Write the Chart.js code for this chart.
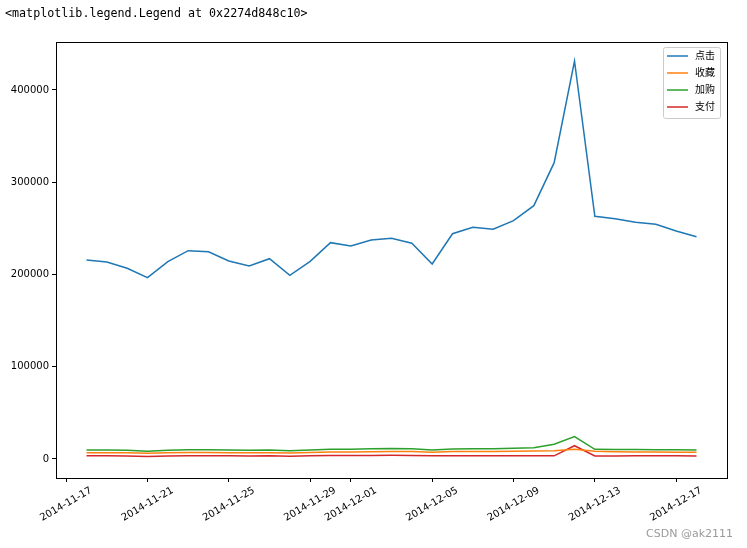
<!DOCTYPE html>
<html>
<head>
<meta charset="utf-8">
<script src="https://cdn.jsdelivr.net/npm/chart.js@4/dist/chart.umd.min.js"></script>
<style>
  html, body { margin: 0; padding: 0; background: #fff; }
  #wrap { position: relative; width: 747px; height: 548px; }
  #c { position: absolute; left: 0; top: 0; }
  #out { position: absolute; left: 5px; top: 6px; font: 11.7px "DejaVu Sans Mono", "Liberation Mono", monospace; color: #000; white-space: pre; }
  #wm { position: absolute; right: 14px; top: 527px; font: 11px "DejaVu Sans", "Noto Sans CJK SC", sans-serif; color: #9a9a9a; }
</style>
</head>
<body>
<div id="wrap">
  <canvas id="c" width="747" height="548"></canvas>
  <div id="out">&lt;matplotlib.legend.Legend at 0x2274d848c10&gt;</div>
  <div id="wm">CSDN @ak2111</div>
</div>
<script>
const dates = ["2014-11-18","2014-11-19","2014-11-20","2014-11-21","2014-11-22","2014-11-23","2014-11-24","2014-11-25","2014-11-26","2014-11-27","2014-11-28","2014-11-29","2014-11-30","2014-12-01","2014-12-02","2014-12-03","2014-12-04","2014-12-05","2014-12-06","2014-12-07","2014-12-08","2014-12-09","2014-12-10","2014-12-11","2014-12-12","2014-12-13","2014-12-14","2014-12-15","2014-12-16","2014-12-17","2014-12-18"];
const seriesNames = ["点击", "收藏", "加购", "支付"];
const clicks   = [215700, 213600, 206700, 196600, 213900, 225800, 224700, 214600, 209200, 217100, 199100, 214300, 234500, 230900, 237400, 239200, 233800, 211400, 244200, 251200, 249000, 258300, 274600, 321200, 431400, 263100, 260500, 256600, 254400, 247200, 241000];
const collects = [6800, 6900, 6800, 6300, 6900, 7100, 7000, 6900, 6800, 6900, 6400, 7000, 7600, 7500, 7900, 8200, 8100, 7400, 8000, 8200, 8200, 8400, 8700, 9000, 10500, 8300, 7900, 7700, 7600, 7400, 7200];
const carts    = [9800, 9700, 9600, 8300, 9600, 10000, 10000, 9700, 9500, 9800, 8900, 9800, 10500, 10600, 11000, 11300, 11000, 9800, 10800, 11100, 11000, 11600, 12200, 15900, 24200, 10500, 10300, 10200, 10100, 10000, 9800];
const buys     = [3600, 3500, 3300, 2700, 3300, 3400, 3400, 3400, 3300, 3400, 3000, 3400, 3700, 3700, 3800, 4000, 3800, 3400, 3600, 3600, 3500, 3600, 3600, 3400, 14400, 3300, 3300, 3400, 3500, 3400, 3300];
const xTickLabels = ["2014-11-17","2014-11-21","2014-11-25","2014-11-29","2014-12-01","2014-12-05","2014-12-09","2014-12-13","2014-12-17"];
const yTickValues = [0, 100000, 200000, 300000, 400000];
const colors = ["#1f77b4", "#ff7f0e", "#2ca02c", "#d62728"];

const DAY = 86400000;
function toDay(s) { const p = s.split("-").map(Number); return Date.UTC(p[0], p[1]-1, p[2]) / DAY; }
function fmtDay(d) {
  const dt = new Date(Math.round(d) * DAY);
  const m = String(dt.getUTCMonth()+1).padStart(2,"0");
  const dd = String(dt.getUTCDate()).padStart(2,"0");
  return dt.getUTCFullYear() + "-" + m + "-" + dd;
}
const xs = dates.map(toDay);
const allSeries = [clicks, collects, carts, buys];
const datasets = allSeries.map((vals, i) => ({
  label: seriesNames[i],
  data: vals.map((v, j) => ({x: xs[j], y: v})),
  borderColor: colors[i],
  backgroundColor: colors[i],
  borderWidth: 1.5,
  pointRadius: 0,
  tension: 0,
  fill: false
}));

const FONT = "'DejaVu Sans', 'Noto Sans CJK SC', sans-serif";

const framePlugin = {
  id: "frame",
  afterDatasetsDraw(chart) {
    const ctx = chart.ctx, a = chart.chartArea;
    ctx.save();
    ctx.strokeStyle = "#000";
    ctx.lineWidth = 1;
    ctx.strokeRect(Math.round(a.left) + 0.5, Math.round(a.top) + 0.5, Math.round(a.right - a.left), Math.round(a.bottom - a.top));
    ctx.restore();
  }
};

// matplotlib-style rotated labels, centred on the tick
const xLabelPlugin = {
  id: "xLabels",
  afterDraw(chart) {
    const s = chart.scales.x, ctx = chart.ctx;
    const ang = Math.PI / 6;
    ctx.save();
    ctx.font = "10px " + FONT;
    ctx.fillStyle = "#000";
    ctx.textAlign = "center";
    ctx.textBaseline = "middle";
    s.ticks.forEach(t => {
      const label = fmtDay(t.value);
      const x = s.getPixelForValue(t.value);
      const w = ctx.measureText(label).width;
      const h = 11;
      const bh = w * Math.sin(ang) + h * Math.cos(ang);
      const cy = s.top + 3.5 + 3.5 + bh / 2;
      ctx.save();
      ctx.translate(x, cy);
      ctx.rotate(-ang);
      ctx.fillText(label, 0, 0);
      ctx.restore();
    });
    ctx.restore();
  }
};

const legendPlugin = {
  id: "boxLegend",
  afterDraw(chart) {
    const ctx = chart.ctx;
    const a = chart.chartArea;
    const ds = chart.data.datasets;
    const bw = 57, rowH = 17;
    const bh = ds.length * rowH + 3;
    const bx = a.right - 7 - bw, by = a.top + 5;
    ctx.save();
    ctx.fillStyle = "rgba(255,255,255,0.8)";
    ctx.strokeStyle = "#cccccc";
    ctx.lineWidth = 1;
    ctx.beginPath();
    ctx.roundRect(bx + 0.5, by + 0.5, bw, bh, 2);
    ctx.fill();
    ctx.stroke();
    ctx.font = "10px " + FONT;
    ctx.textBaseline = "middle";
    ds.forEach((d, i) => {
      const y = by + 9 + i * rowH;
      ctx.strokeStyle = d.borderColor;
      ctx.lineWidth = 1.5;
      ctx.beginPath();
      ctx.moveTo(bx + 4, y);
      ctx.lineTo(bx + 25, y);
      ctx.stroke();
      ctx.fillStyle = "#000";
      ctx.fillText(d.label, bx + 32, y);
    });
    ctx.restore();
  }
};

new Chart(document.getElementById("c"), {
  type: "line",
  data: { datasets },
  options: {
    responsive: false,
    animation: false,
    devicePixelRatio: 1,
    layout: { padding: { top: 42, right: 20, left: 0, bottom: 0 } },
    plugins: { legend: { display: false }, tooltip: { enabled: false } },
    scales: {
      x: {
        type: "linear",
        min: xs[0] - 1.5,
        max: xs[xs.length - 1] + 1.5,
        afterBuildTicks(scale) { scale.ticks = xTickLabels.map(s => ({ value: toDay(s) })); },
        afterFit(scale) { scale.height = 70; },
        grid: { drawOnChartArea: false, drawTicks: true, tickLength: 4, color: "#000" },
        border: { display: true, color: "#000" },
        ticks: {
          display: false,
          autoSkip: false,
          callback: (v) => fmtDay(v)
        }
      },
      y: {
        type: "linear",
        min: -20600,
        max: 452000,
        afterBuildTicks(scale) { scale.ticks = yTickValues.map(v => ({ value: v })); },
        afterFit(scale) { scale.width = 56; },
        grid: { drawOnChartArea: false, drawTicks: true, tickLength: 4, color: "#000" },
        border: { display: true, color: "#000" },
        ticks: {
          padding: 3,
          color: "#000",
          font: { family: FONT, size: 10 },
          callback: (v) => String(v)
        }
      }
    }
  },
  plugins: [framePlugin, xLabelPlugin, legendPlugin]
});
</script>
</body>
</html>
